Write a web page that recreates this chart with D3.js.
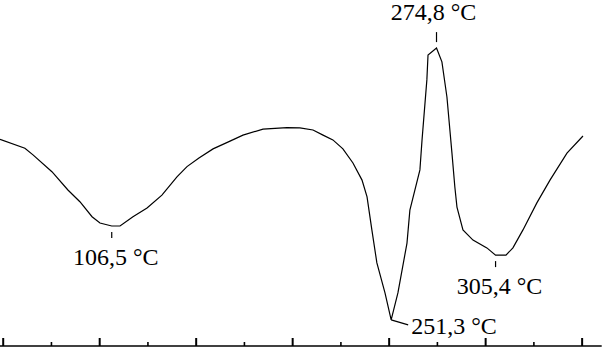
<!DOCTYPE html>
<html>
<head>
<meta charset="utf-8">
<script src="https://cdn.jsdelivr.net/npm/d3@7"></script>
<style>
  body { margin: 0; background: #fff; }
</style>
</head>
<body>
<div id="dsc"></div>
<script>
// DSC trace: temperature (°C) and heat flow (arbitrary units)
const temps = [48.6, 61.5, 65.7, 75.5, 83.8, 90.0, 96.3, 100.4, 106.5, 110.8, 117.5, 124.8,
  132.5, 140.3, 145.5, 151.7, 159.0, 167.8, 174.5, 184.9, 197.3, 204.0, 210.8, 216.0,
  221.1, 226.3, 231.5, 236.2, 238.8, 241.3, 243.9, 248.1, 251.3, 254.8, 259.5, 261.0,
  266.2, 267.3, 269.8, 270.4, 274.8, 277.6, 280.2, 282.8, 284.3, 285.4, 288.5, 293.7,
  300.9, 305.4, 310.8, 314.4, 319.6, 326.8, 333.6, 342.4, 350.7];
const heatFlow = [6.69, 6.39, 6.17, 5.61, 5.0, 4.61, 4.11, 3.9, 3.8, 3.8, 4.11, 4.4,
  4.83, 5.44, 5.78, 6.07, 6.37, 6.63, 6.83, 7.03, 7.08, 7.07, 7.0, 6.83,
  6.67, 6.37, 5.9, 5.33, 4.77, 3.67, 2.57, 1.57, 0.67, 1.57, 3.23, 4.33,
  5.67, 6.67, 8.67, 9.5, 9.73, 9.27, 8.1, 6.23, 5.1, 4.43, 3.67, 3.33,
  3.07, 2.83, 2.83, 3.07, 3.67, 4.57, 5.33, 6.23, 6.8];

// peak labels
const peakTemps = [106.5, 251.3, 274.8, 305.4];
const peakLabels = ["106,5 °C", "251,3 °C", "274,8 °C", "305,4 °C"];
const peakKind = ["min", "side", "max", "min"];

const majorTicks = [50, 100, 150, 200, 250, 300, 350];
const minorTicks = [75, 125, 175, 225, 275, 325];

const width = 607, height = 347;
const serif = "'Liberation Serif', 'Times New Roman', 'DejaVu Serif', serif";

const svg = d3.select("#dsc")
  .append("svg")
    .attr("width", width)
    .attr("height", height);

const x = d3.scaleLinear()
    .domain([48.6, 360.4])
    .range([0, 601.7]);

const y = d3.scaleLinear()
    .domain([0, 10])
    .range([340, 40]);

const baseY = 346;

// bottom axis, ticks pointing up, no labels
svg.append("g")
  .attr("transform", `translate(0, ${baseY})`)
  .call(d3.axisBottom(x).tickValues(majorTicks).tickSize(-8).tickFormat(""))
  .call(g => g.select(".domain").attr("d", `M${x.range()[0]},0H${x.range()[1]}`)
      .attr("stroke-width", 1.4))
  .call(g => g.selectAll(".tick line").attr("stroke-width", 2));

svg.append("g")
  .attr("transform", `translate(0, ${baseY})`)
  .call(d3.axisBottom(x).tickValues(minorTicks).tickSize(-4).tickFormat(""))
  .call(g => g.select(".domain").remove())
  .call(g => g.selectAll(".tick line").attr("stroke-width", 1.6));

const points = temps.map((t, i) => [t, heatFlow[i]]);

const line = d3.line()
    .x(d => x(d[0]))
    .y(d => y(d[1]));

svg.append("path")
  .datum(points)
  .attr("fill", "none")
  .attr("stroke", "#000")
  .attr("stroke-width", 1.2)
  .attr("d", line);

// annotations
const valueAt = t => heatFlow[temps.indexOf(t)];

peakTemps.forEach((t, i) => {
  const px = x(t), py = y(valueAt(t));
  const kind = peakKind[i];
  let label;
  if (kind === "min") {
    svg.append("line")
      .attr("x1", px).attr("x2", px)
      .attr("y1", py + 6).attr("y2", py + 12)
      .attr("stroke", "#000").attr("stroke-width", 1.2);
    label = svg.append("text")
      .attr("x", px + 4).attr("y", py + 39)
      .attr("text-anchor", "middle");
  } else if (kind === "max") {
    svg.append("line")
      .attr("x1", px).attr("x2", px)
      .attr("y1", py - 6).attr("y2", py - 16)
      .attr("stroke", "#000").attr("stroke-width", 1.2);
    label = svg.append("text")
      .attr("x", px - 3).attr("y", py - 28)
      .attr("text-anchor", "middle");
  } else {
    svg.append("line")
      .attr("x1", px).attr("x2", px + 17)
      .attr("y1", py).attr("y2", py + 5)
      .attr("stroke", "#000").attr("stroke-width", 1.2);
    label = svg.append("text")
      .attr("x", px + 20).attr("y", py + 14);
  }
  label.attr("font-family", serif)
    .attr("font-size", 24)
    .attr("fill", "#000")
    .text(peakLabels[i]);
});
</script>
</body>
</html>
